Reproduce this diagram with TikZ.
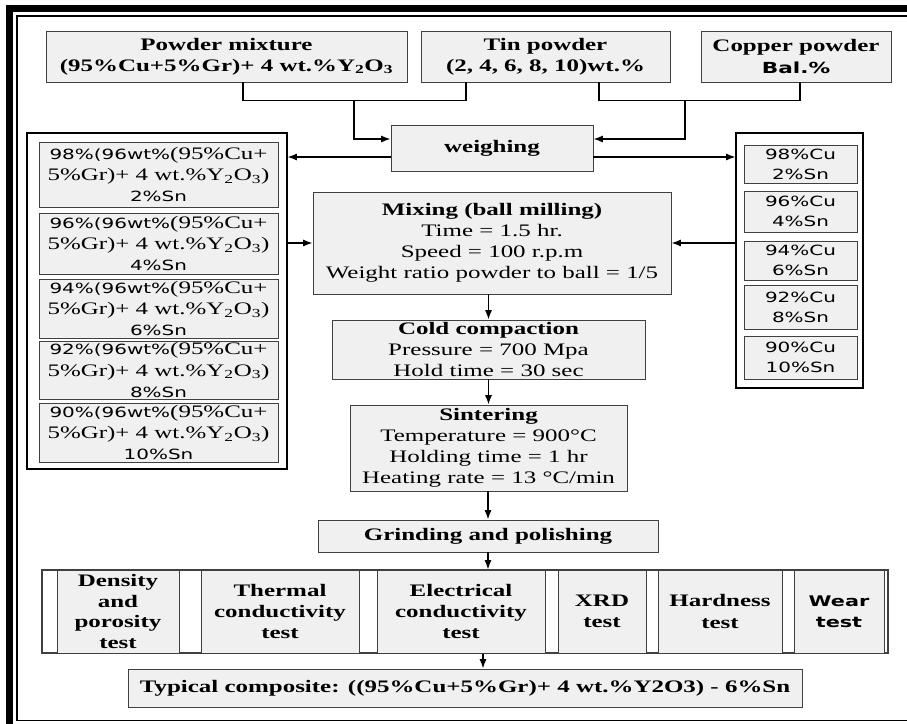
\documentclass[tikz,border=0pt]{standalone}
\usepackage{fontspec}
\setmainfont{Liberation Serif}[FakeStretch=1.42]
\setsansfont{DejaVu Sans}[FakeStretch=1.42]
\usetikzlibrary{arrows.meta}
\tikzset{sz/.style 2 args={minimum width=#1*0.03cm,minimum height=#2*0.03cm}}
\newcommand{\yto}{Y\textsubscript{2}O\textsubscript{3}}
\begin{document}
\begin{tikzpicture}[x=0.03cm,y=-0.03cm]
        \tikzstyle{proc}=[draw=black!75,line width=0.8pt,fill=black!6,inner sep=1pt,align=center,font=\fontsize{15}{18}\selectfont];
        \tikzstyle{holder}=[draw=black,line width=0.9pt,fill=white,inner sep=0pt];
        \tikzstyle{conn}=[line width=1.1pt];
        \tikzstyle{arr}=[conn,-{Latex[length=8pt,width=6pt]}];
        \useasboundingbox (0,0) rectangle (907,723);

        % frame
        \draw[line width=6pt] (9.5,740) -- (9.5,8.5) -- (920,8.5);
        \draw[line width=1.3pt] (920,16) -- (17,16) -- (17,720.5) -- (920,720.5);

        % raw powders
        \node(pm)[proc,sz={361}{51}] at (226.5,56.5) {\textbf{Powder mixture}\\\textbf{(95\%Cu+5\%Gr)+ 4 wt.\%\yto}};
        \node(tin)[proc,sz={249}{51}] at (545.5,56.5) {\textbf{Tin powder}\\\textbf{(2, 4, 6, 8, 10)wt.\%}};
        \node(cu)[proc,sz={190}{51}] at (796,56.5) {\textbf{Copper powder}\\{\sffamily\bfseries\fontsize{13}{18}\selectfont Bal.\%}};
        \node(weigh)[proc,sz={202}{46}] at (492,148) {\textbf{weighing}};

        % compositions
        \node(lbox)[holder,sz={260}{336}] at (157,301) {};
        \foreach \i/\yc/\h/\p/\s in {1/174.5/65/98/2,2/243.5/61/96/4,3/308.5/59/94/6,4/370/58/92/8,5/432.5/59/90/10}{
          \node(l\i)[proc,sz={239}{\h}] at (158.5,\yc) {{\sffamily\fontsize{12}{18}\selectfont \p\%(96wt\%}(95\%Cu+\\5\%Gr)+ 4 wt.\%\yto)\\{\sffamily\fontsize{12}{18}\selectfont \s\%Sn}};
        }
        \node(rbox)[holder,sz={127}{255}] at (799.5,260.5) {};
        \foreach \i/\yc/\h/\c/\s in {1/164/38/98/2,2/211.5/41/96/4,3/260.5/39/94/6,4/307/44/92/8,5/357.5/43/90/10}{
          \node(r\i)[proc,sz={113}{\h},font=\sffamily\fontsize{12}{17}\selectfont] at (800.5,\yc) {\c\%Cu\\\s\%Sn};
        }

        % processing
        \node(mix)[proc,sz={358}{102}] at (492,243) {\textbf{Mixing (ball milling)}\\Time = 1.5 hr.\\Speed = 100 r.p.m\\Weight ratio powder to ball = 1/5};
        \node(cold)[proc,sz={313}{59}] at (488.5,349.5) {\textbf{Cold compaction}\\Pressure = 700 Mpa\\Hold time = 30 sec};
        \node(sint)[proc,sz={277}{86}] at (488.5,448) {\textbf{Sintering}\\Temperature = 900°C\\Holding time = 1 hr\\Heating rate = 13 °C/min};
        \node(grind)[proc,sz={340}{32}] at (488,536) {\textbf{Grinding and polishing}};

        % tests
        \node(tests)[holder,draw=black!75,sz={846}{83}] at (465,611.5) {};
        \node(dens)[proc,sz={122}{83},font=\bfseries\fontsize{15}{17.5}\selectfont] at (118,611.5) {Density\\and\\porosity\\test};
        \node(therm)[proc,sz={158}{83},font=\bfseries\fontsize{15}{18}\selectfont] at (280,611.5) {Thermal\\conductivity\\test};
        \node(elec)[proc,sz={168}{83},font=\bfseries\fontsize{15}{18}\selectfont] at (461,611.5) {Electrical\\conductivity\\test};
        \node(xrd)[proc,sz={88}{83},font=\bfseries\fontsize{15}{18}\selectfont] at (602,611.5) {XRD\\test};
        \node(hard)[proc,sz={124}{83},font=\bfseries\fontsize{15}{18}\selectfont] at (720,611.5) {Hardness\\test};
        \node(wear)[proc,sz={90}{83},font=\sffamily\bfseries\fontsize{12.5}{18}\selectfont] at (839,611.5) {Wear\\test};
        \node(typ)[proc,sz={674}{38}] at (465,688) {\textbf{Typical composite: ((95\%Cu+5\%Gr)+ 4 wt.\%Y2O3) - 6\%Sn}};

        % connectors
        \coordinate (j1) at (354,100);
        \coordinate (j2) at (685,100);
        \draw[conn] ([xshift=.495cm]pm.south) -- ++(0,18) -| ([xshift=-2.385cm]tin.south);
        \draw[conn] ([xshift=1.605cm]tin.south) -- ++(0,18) -| ([xshift=.12cm]cu.south);
        \draw[arr] (j1) |- ([yshift=.27cm]weigh.west);
        \draw[arr] (j2) |- ([yshift=.27cm]weigh.east);
        \coordinate (wl) at ([yshift=-.27cm]weigh.west);
        \coordinate (wr) at ([yshift=-.27cm]weigh.east);
        \draw[arr] (wl) -- (wl -| lbox.east);
        \draw[arr] (wr) -- (wr -| rbox.west);
        \draw[arr] (lbox.east |- mix.west) -- (mix.west);
        \draw[arr] (rbox.west |- mix.east) -- (mix.east);
        \draw[arr] (mix.south -| cold) -- (cold.north);
        \draw[arr] (cold) -- (sint);
        \draw[arr] (sint.south -| grind) -- (grind.north);
        \draw[arr] (grind.south) -- (grind.south |- tests.north);
        \coordinate (tt) at ([xshift=.54cm]typ.north);
        \draw[arr] (tt |- tests.south) -- (tt);
      \end{tikzpicture}
\end{document}
